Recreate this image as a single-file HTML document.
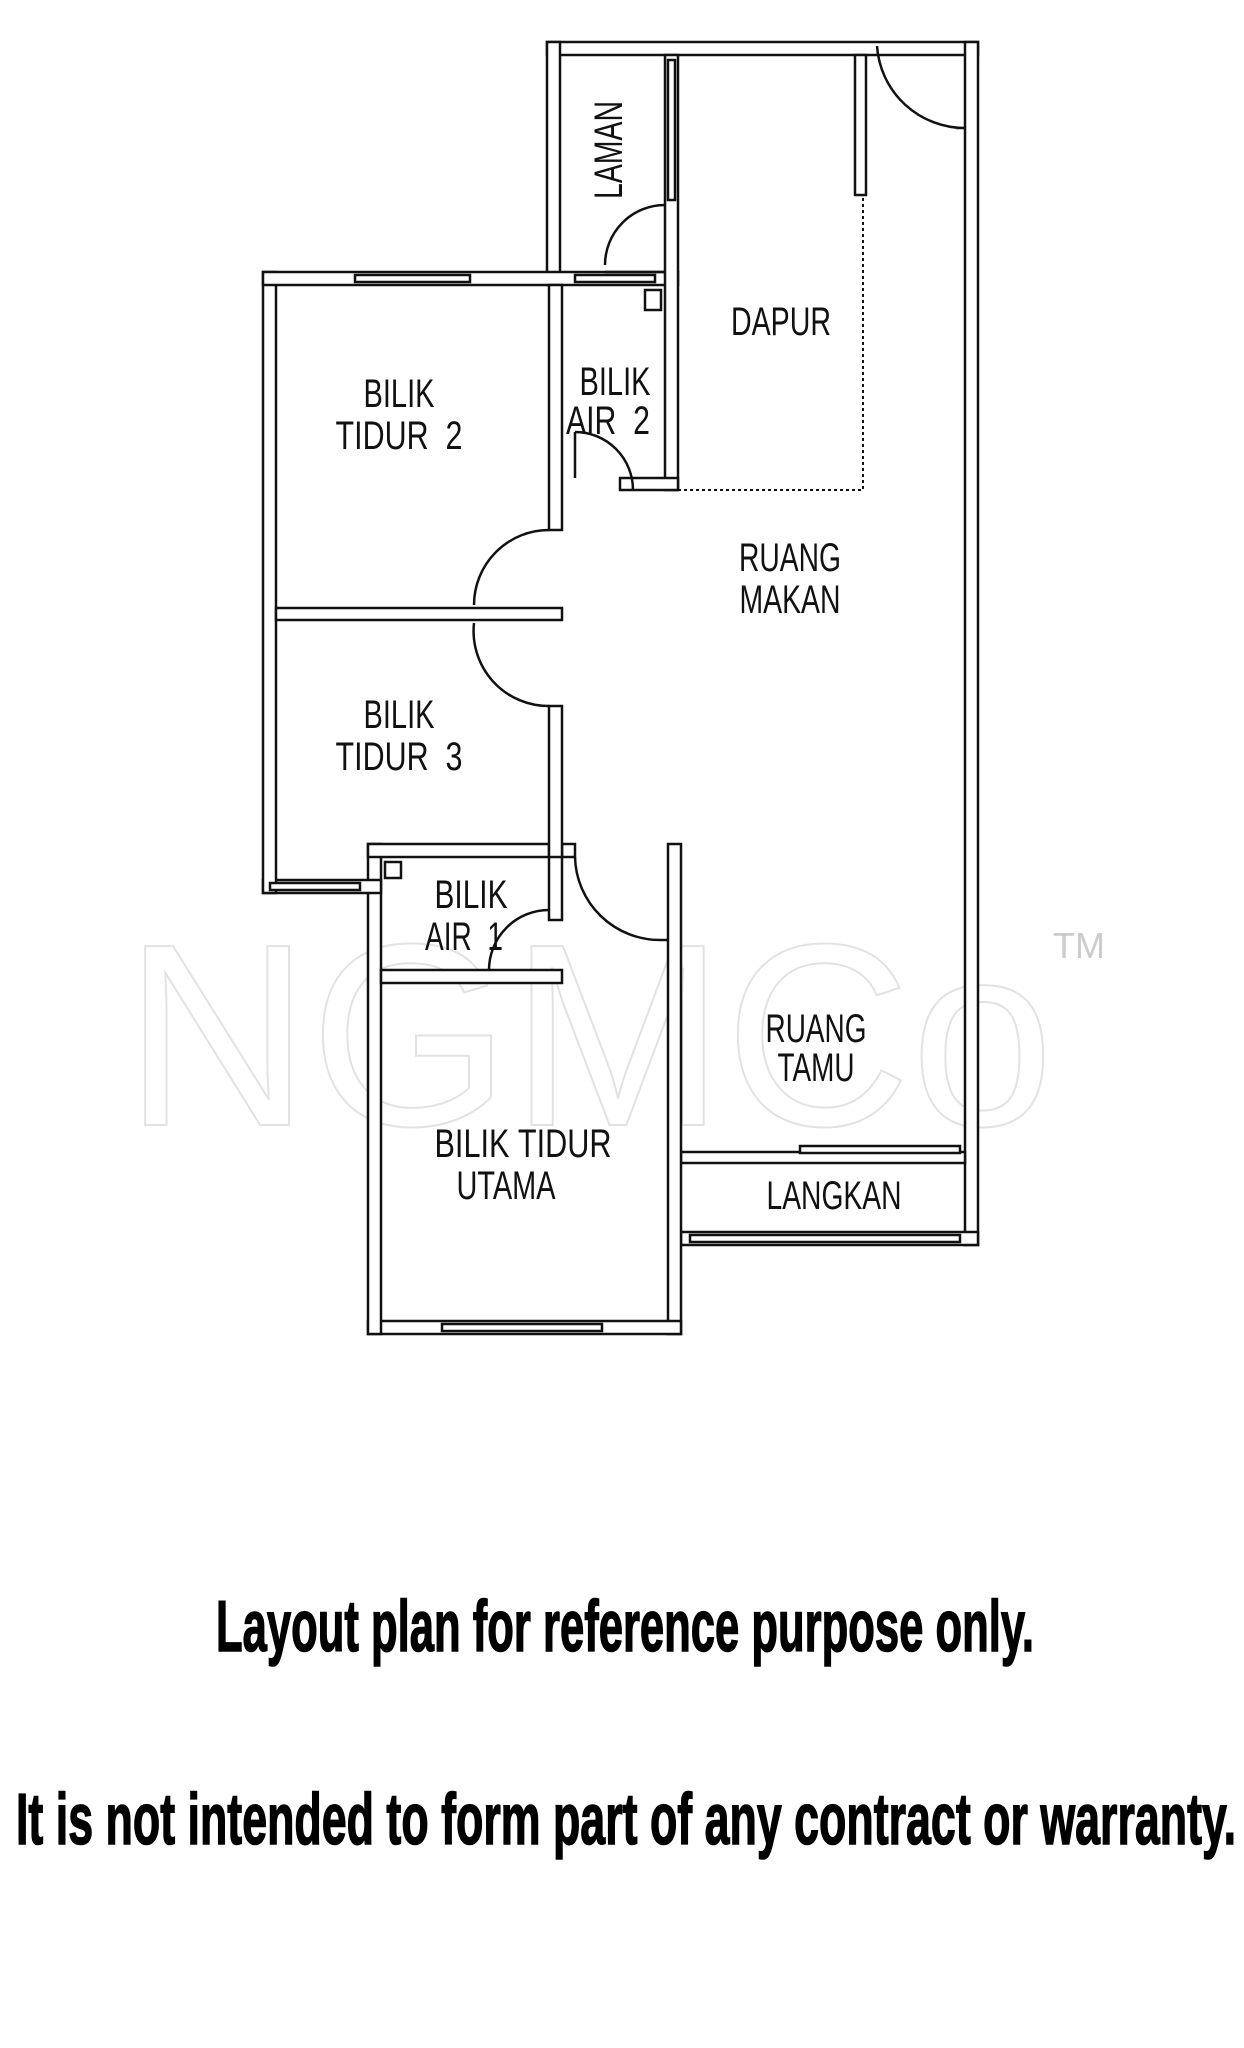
<!DOCTYPE html>
<html><head><meta charset="utf-8"><style>
html,body{margin:0;padding:0;background:#fff;}
svg{display:block;}
.l{font-family:"Liberation Sans Narrow","Liberation Sans",sans-serif;font-size:40px;fill:#111;}
.w{fill:#fff;stroke:#111;stroke-width:2.5;}
.d{fill:none;stroke:#111;stroke-width:2.5;}
</style></head><body>
<svg width="1244" height="2048" viewBox="0 0 1244 2048" xmlns="http://www.w3.org/2000/svg">
<rect width="1244" height="2048" fill="#fff"/>
<!-- watermark -->
<text x="124" y="1125" font-family="Liberation Sans" font-size="260" fill="none" stroke="#e2e2e2" stroke-width="2" textLength="930" lengthAdjust="spacingAndGlyphs">NGMCo</text>
<text x="1053" y="958" font-family="Liberation Sans" font-size="36" fill="#ccc">TM</text>

<!-- walls -->
<rect class="w" x="547" y="42" width="431" height="13"/>
<rect class="w" x="965" y="42" width="13" height="1203"/>
<rect class="w" x="547" y="42" width="13" height="243"/>
<rect class="w" x="681" y="1232" width="297" height="13"/>
<rect class="w" x="681" y="1152" width="284" height="11"/>
<rect class="w" x="668" y="844" width="13" height="490"/>
<rect class="w" x="368" y="1321" width="313" height="13"/>
<rect class="w" x="368" y="844" width="13" height="490"/>
<rect class="w" x="368" y="844" width="207" height="13"/>
<rect class="w" x="381" y="970" width="181" height="13"/>
<rect class="w" x="549" y="844" width="13" height="76"/>
<rect class="w" x="263" y="880" width="118" height="13"/>
<rect class="w" x="263" y="272" width="13" height="621"/>
<rect class="w" x="263" y="272" width="415" height="13"/>
<rect class="w" x="276" y="608" width="286" height="12"/>
<rect class="w" x="549" y="285" width="13" height="245"/>
<rect class="w" x="549" y="706" width="13" height="151"/>
<rect class="w" x="665" y="55" width="13" height="435"/>
<rect class="w" x="620" y="478" width="58" height="12"/>
<rect class="w" x="855" y="55" width="11" height="140"/>
<!-- windows -->
<rect class="w" x="355" y="275" width="115" height="7"/>
<rect class="w" x="575" y="275" width="80" height="7"/>
<rect class="w" x="668" y="60" width="7" height="140"/>
<rect class="w" x="442" y="1324" width="160" height="7"/>
<rect class="w" x="270" y="883" width="90" height="7"/>
<rect class="w" x="690" y="1235" width="270" height="7"/>
<rect class="w" x="800" y="1146" width="160" height="7"/>
<!-- dotted -->
<path d="M678 490 H863 V195" fill="none" stroke="#111" stroke-width="2" stroke-dasharray="3 3"/>
<!-- doors -->
<path class="d" d="M965 128 A88 88 0 0 1 877 46 M956 128 H965"/>
<path class="d" d="M665 205 A60 60 0 0 0 605 265 M605 272 H665"/>
<path class="d" d="M549 530 A75 75 0 0 0 474 605"/>
<path class="d" d="M549 706 A75 75 0 0 1 474 623"/>
<path class="d" d="M633 490 A58 58 0 0 0 575 432 M575 432 V478"/>
<path class="d" d="M575 857 A85 85 0 0 0 660 940 H668"/>
<path class="d" d="M549 910 A60 60 0 0 0 489 970"/>
<rect class="d" x="645" y="290" width="16" height="20"/>
<rect class="d" x="385" y="862" width="16" height="16"/>
<!-- labels -->
<text class="l" transform="translate(622,150) rotate(-90)" text-anchor="middle" textLength="98" lengthAdjust="spacingAndGlyphs">LAMAN</text>
<text class="l" x="781" y="335" text-anchor="middle" textLength="100" lengthAdjust="spacingAndGlyphs">DAPUR</text>
<text class="l" x="399" y="407" text-anchor="middle" textLength="71" lengthAdjust="spacingAndGlyphs">BILIK</text>
<text class="l" x="399" y="449" text-anchor="middle" textLength="127" lengthAdjust="spacingAndGlyphs">TIDUR&#160;&#160;2</text>
<text class="l" x="615" y="395" text-anchor="middle" textLength="71" lengthAdjust="spacingAndGlyphs">BILIK</text>
<text class="l" x="608" y="434" text-anchor="middle" textLength="84" lengthAdjust="spacingAndGlyphs">AIR&#160;&#160;2</text>
<text class="l" x="790" y="571" text-anchor="middle" textLength="102" lengthAdjust="spacingAndGlyphs">RUANG</text>
<text class="l" x="790" y="613" text-anchor="middle" textLength="101" lengthAdjust="spacingAndGlyphs">MAKAN</text>
<text class="l" x="399" y="728" text-anchor="middle" textLength="71" lengthAdjust="spacingAndGlyphs">BILIK</text>
<text class="l" x="399" y="770" text-anchor="middle" textLength="127" lengthAdjust="spacingAndGlyphs">TIDUR&#160;&#160;3</text>
<text class="l" x="471" y="908" text-anchor="middle" textLength="73" lengthAdjust="spacingAndGlyphs">BILIK</text>
<text class="l" x="464" y="950" text-anchor="middle" textLength="78" lengthAdjust="spacingAndGlyphs">AIR&#160;&#160;1</text>
<text class="l" x="816" y="1042" text-anchor="middle" textLength="101" lengthAdjust="spacingAndGlyphs">RUANG</text>
<text class="l" x="816" y="1081" text-anchor="middle" textLength="77" lengthAdjust="spacingAndGlyphs">TAMU</text>
<text class="l" x="523" y="1157" text-anchor="middle" textLength="177" lengthAdjust="spacingAndGlyphs">BILIK&#160;TIDUR</text>
<text class="l" x="506" y="1199" text-anchor="middle" textLength="99" lengthAdjust="spacingAndGlyphs">UTAMA</text>
<text class="l" x="834" y="1209" text-anchor="middle" textLength="135" lengthAdjust="spacingAndGlyphs">LANGKAN</text>
<!-- footer -->
<text x="216" y="1651" font-family="Liberation Sans" font-weight="bold" font-size="72" fill="#000" stroke="#000" stroke-width="1.5" textLength="818" lengthAdjust="spacingAndGlyphs">Layout plan for reference purpose only.</text>
<text x="16" y="1844" font-family="Liberation Sans" font-weight="bold" font-size="72" fill="#000" stroke="#000" stroke-width="1.5" textLength="1220" lengthAdjust="spacingAndGlyphs">It is not intended to form part of any contract or warranty.</text>
</svg>
</body></html>
